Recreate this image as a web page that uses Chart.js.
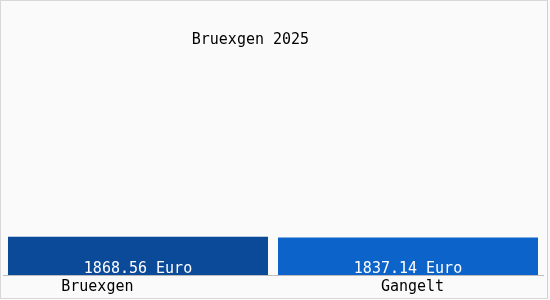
<!DOCTYPE html>
<html>
<head>
<meta charset="utf-8">
<script src="https://cdn.jsdelivr.net/npm/chart.js@4"></script>
<style>
  body { margin: 0; background: #fafafa; }
  #wrap { position: relative; width: 550px; height: 300px; }
  #frame { position: absolute; left: 0; top: 0; width: 546px; height: 297px; border: 1px solid #d8d8d8; border-right-color: #cfcfcf; pointer-events: none; }
</style>
</head>
<body>
<div id="wrap">
  <canvas id="grafico" width="550" height="300"></canvas>
  <div id="frame"></div>
</div>
<script>
const titulo = 'Bruexgen 2025';
const orte = ['Bruexgen', 'Gangelt'];
const werte = [1868.56, 1837.14];
const farben = ['#0b4a98', '#0c63c9'];
const einheit = ' Euro';

const schrift = "'DejaVu Sans Mono', 'Liberation Mono', monospace";

// labels sit a bit off the bar centres in the original
const ortLabel = ['Bruexgen         ', ' Gangelt'];

const wertLabels = {
    id: 'wertLabels',
    afterDatasetsDraw(chart) {
        const ctx = chart.ctx;
        const meta = chart.getDatasetMeta(0);
        ctx.save();
        ctx.font = '15px ' + schrift;
        ctx.fillStyle = '#ffffff';
        ctx.textAlign = 'center';
        ctx.textBaseline = 'alphabetic';
        meta.data.forEach((bar, i) => {
            ctx.fillText(werte[i].toFixed(2) + einheit, bar.x, bar.base - 2);
        });
        ctx.restore();
    }
};

const ctx = document.getElementById('grafico').getContext('2d');
const grafico = new Chart(ctx, {
    type: 'bar',
    data: {
        labels: orte,
        datasets: [{
            data: werte,
            backgroundColor: farben,
            borderWidth: 0,
            barPercentage: 0.963,
            categoryPercentage: 1
        }]
    },
    options: {
        responsive: false,
        animation: false,
        layout: { padding: { left: 3, right: 7, top: 0, bottom: 0 } },
        plugins: {
            legend: { display: false },
            tooltip: { enabled: false },
            title: {
                display: true,
                text: titulo + '     ',
                color: '#000',
                font: { family: schrift, size: 15, weight: 'normal' },
                padding: { top: 31, bottom: 11 }
            }
        },
        scales: {
            x: {
                grid: { display: false, drawTicks: false },
                border: { display: true, color: '#bdbdbd' },
                ticks: {
                    color: '#000',
                    font: { family: schrift, size: 15, lineHeight: 1 },
                    padding: 5,
                    maxRotation: 0,
                    callback: (v, i) => ortLabel[i]
                }
            },
            y: {
                display: false,
                min: 0,
                max: 10500
            }
        }
    },
    plugins: [wertLabels]
});
</script>
</body>
</html>
